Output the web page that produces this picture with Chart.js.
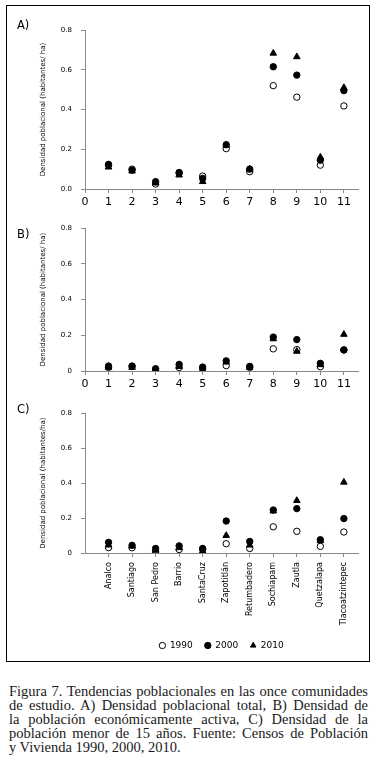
<!DOCTYPE html>
<html>
<head>
<meta charset="utf-8">
<script src="https://cdn.jsdelivr.net/npm/chart.js@4.4.1/dist/chart.umd.min.js"></script>
<style>
  html, body { margin: 0; padding: 0; background: #fff; }
  body { width: 379px; height: 777px; position: relative; overflow: hidden; }
  .frame { position: absolute; left: 6px; top: 5px; width: 362px; height: 655px; border: 1.5px solid #000; }
  canvas { position: absolute; left: 0; }
  .tag { position: absolute; left: 17px; font: 11.5px "DejaVu Sans", sans-serif; color: #000; }
  .caption { position: absolute; left: 9px; top: 684px; width: 359px; font: 14.5px "Liberation Serif", serif; line-height: 14px; color: #1a1a1a; }
  .caption div { text-align: justify; text-align-last: justify; }
  .caption div.last { text-align-last: left; }
</style>
</head>
<body>
<div class="frame"></div>
<canvas id="chartA" width="379" height="215" style="top:0px"></canvas>
<canvas id="chartB" width="379" height="185" style="top:215px"></canvas>
<canvas id="chartC" width="379" height="260" style="top:400px"></canvas>
<div class="tag" style="top:18px">A)</div>
<div class="tag" style="top:227px">B)</div>
<div class="tag" style="top:402px">C)</div>
<div class="caption">
  <div>Figura 7. Tendencias poblacionales en las once comunidades</div>
  <div>de estudio. A) Densidad poblacional total, B) Densidad de</div>
  <div>la población económicamente activa, C) Densidad de la</div>
  <div>población menor de 15 años. Fuente: Censos de Población</div>
  <div class="last">y Vivienda 1990, 2000, 2010.</div>
</div>
<script>
// community positions and names
const positions = [1, 2, 3, 4, 5, 6, 7, 8, 9, 10, 11];
const numTicks = [0, 1, 2, 3, 4, 5, 6, 7, 8, 9, 10, 11];
const communities = ['Analco', 'Santiago', 'San Pedro', 'Barrio', 'SantaCruz', 'Zapotitlán',
  'Retumbadero', 'Sochiapam', 'Zautla', 'Quetzalapa', 'Tlacoatzintepec'];
const years = ['1990', '2000', '2010'];
const yTicks = [0, 0.2, 0.4, 0.6, 0.8];
const yLabelsA = ['0.0', '0.2', '0.4', '0.6', '0.8'];
const yLabelsBC = ['0', '0.2', '0.4', '0.6', '0.8'];

// A) densidad poblacional total
const a1990 = [0.12, 0.10, 0.025, 0.08, 0.065, 0.203, 0.087, 0.52, 0.462, 0.12, 0.418];
const a2000 = [0.124, 0.095, 0.037, 0.083, 0.053, 0.223, 0.10, 0.615, 0.573, 0.145, 0.495];
const a2010 = [0.11, 0.09, 0.03, 0.07, 0.037, 0.22, 0.10, 0.683, 0.665, 0.16, 0.51];

// B) poblacion economicamente activa
const b1990 = [0.02, 0.025, 0.005, 0.02, 0.01, 0.03, 0.02, 0.124, 0.12, 0.024, 0.118];
const b2000 = [0.028, 0.028, 0.013, 0.037, 0.022, 0.057, 0.026, 0.19, 0.176, 0.043, 0.118];
const b2010 = [0.02, 0.02, 0.005, 0.025, 0.005, 0.05, 0.02, 0.18, 0.11, 0.035, 0.205];

// C) poblacion menor de 15 anos
const c1990 = [0.031, 0.03, 0.011, 0.02, 0.02, 0.053, 0.026, 0.15, 0.124, 0.038, 0.12];
const c2000 = [0.061, 0.044, 0.026, 0.041, 0.026, 0.183, 0.066, 0.246, 0.254, 0.076, 0.197];
const c2010 = [0.045, 0.04, 0.015, 0.03, 0.01, 0.10, 0.045, 0.24, 0.30, 0.07, 0.405];

const FONT = '"DejaVu Sans", sans-serif';
const AXIS = '#8a8a8a';

function makePanel(id, series, yLabels, yTitle, cfg) {
  const xTickVals = cfg.names ? positions : numTicks;
  return new Chart(document.getElementById(id), {
    type: 'scatter',
    data: {
      datasets: years.map((yr, i) => ({
        label: yr,
        data: positions.map((x, j) => ({ x: x, y: series[i][j] })),
        pointStyle: i === 2 ? 'triangle' : 'circle',
        pointRadius: i === 2 ? 3.8 : 3.2,
        pointBackgroundColor: i === 0 ? '#fff' : '#000',
        backgroundColor: i === 0 ? '#fff' : '#000',
        pointBorderColor: '#000',
        borderColor: '#000',
        pointBorderWidth: 1,
        order: 3 - i // later years drawn on top
      }))
    },
    options: {
      responsive: false,
      animation: false,
      layout: { padding: cfg.padding },
      scales: {
        x: {
          type: 'linear',
          min: 0,
          max: 11.6,
          afterBuildTicks: s => { s.ticks = xTickVals.map(v => ({ value: v })); },
          afterFit: s => { s.height = cfg.xHeight; },
          ticks: {
            autoSkip: false,
            color: '#000',
            padding: cfg.names ? 5 : 3,
            minRotation: cfg.names ? 90 : 0,
            maxRotation: cfg.names ? 90 : 0,
            font: { family: FONT, size: cfg.names ? 8 : 11 },
            callback: (v, i) => cfg.names ? communities[i] : String(numTicks[i])
          },
          grid: { drawOnChartArea: false, drawTicks: true, tickLength: 4, color: AXIS },
          border: { color: AXIS, width: 1 }
        },
        y: {
          min: 0,
          max: 0.8,
          afterBuildTicks: s => { s.ticks = yTicks.map(v => ({ value: v })); },
          afterFit: s => { s.width = 50; },
          ticks: {
            color: '#000',
            padding: 9,
            font: { family: FONT, size: 7 },
            callback: (v, i) => yLabels[i]
          },
          title: {
            display: true,
            text: yTitle,
            color: '#000',
            font: { family: FONT, size: 7 },
            padding: { top: 4, bottom: 0 }
          },
          grid: { drawOnChartArea: false, drawTicks: true, tickLength: 4, color: AXIS },
          border: { color: AXIS, width: 1 }
        }
      },
      plugins: {
        tooltip: { enabled: false },
        legend: {
          display: !!cfg.legend,
          position: 'bottom',
          fullSize: false,
          labels: {
            usePointStyle: true,
            boxWidth: 6,
            boxHeight: 4.5,
            padding: 12,
            color: '#000',
            font: { family: FONT, size: 9 },
            sort: (a, b) => a.datasetIndex - b.datasetIndex
          }
        }
      }
    }
  });
}

makePanel('chartA', [a1990, a2000, a2010], yLabelsA, 'Densidad poblacional (habitantes/ ha)',
  { padding: { top: 30, left: 35, right: 21, bottom: 4 }, xHeight: 22 });
makePanel('chartB', [b1990, b2000, b2010], yLabelsBC, 'Densidad poblacional (habitantes/ ha)',
  { padding: { top: 12, left: 35, right: 21, bottom: 7 }, xHeight: 22 });
makePanel('chartC', [c1990, c2000, c2010], yLabelsBC, 'Densidad poblacional (habitantes/ha)',
  { padding: { top: 9, left: 35, right: 21, bottom: 0 }, xHeight: 76, names: true, legend: true });
</script>
</body>
</html>
